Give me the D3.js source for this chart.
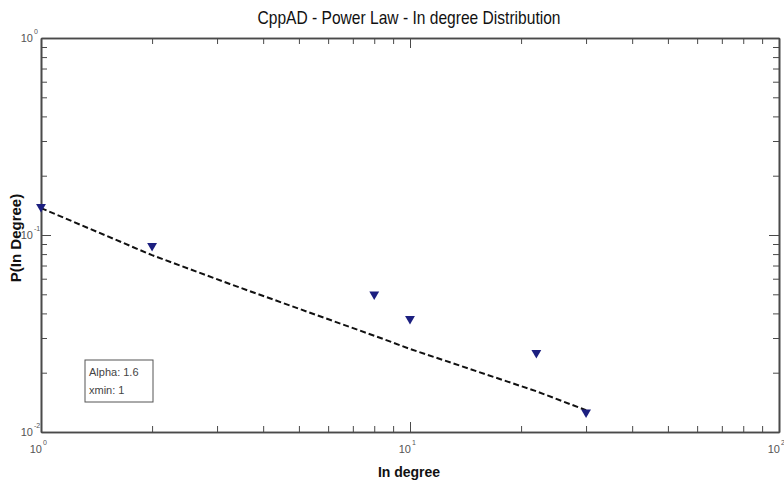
<!DOCTYPE html>
<html>
<head>
<meta charset="utf-8">
<script src="https://cdnjs.cloudflare.com/ajax/libs/d3/7.8.5/d3.min.js"></script>
<style>
  body { margin: 0; background: #fff; }
  svg { display: block; }
</style>
</head>
<body>
<div class="chart"></div>
<script>
// chart data
var degree = [1, 2, 8, 10, 22, 30];
var prob = [0.139, 0.088, 0.050, 0.0375, 0.0252, 0.0126];

// fitted power law line
var fitDegree = [1, 2, 3.25, 8.45, 10, 22, 30];
var fitProb = [0.137, 0.079, 0.0564, 0.0297, 0.0264, 0.0161, 0.0129];

var xMajor = [1, 10, 100];
var xExp = ["0", "1", "2"];
var yMajor = [1, 0.1, 0.01];
var yExp = ["0", "-1", "-2"];
var legendLines = ["Alpha: 1.6", "xmin: 1"];

var svgWidth = 784;
var svgHeight = 482;

var margin = { top: 38, right: 5, bottom: 50, left: 41 };
var width = svgWidth - margin.left - margin.right;
var height = svgHeight - margin.top - margin.bottom;

var svg = d3.select(".chart")
    .append("svg")
    .attr("width", svgWidth)
    .attr("height", svgHeight);

var chartGroup = svg.append("g")
    .attr("transform", `translate(${margin.left}, ${margin.top})`);

// scales
var xScale = d3.scaleLog().domain([1, 100]).range([0, width]);
var yScale = d3.scaleLog().domain([0.01, 1]).range([height, 0]);

// minor ticks
var xMinor = [];
[1, 10].forEach(function(b) { for (var i = 2; i <= 9; i++) xMinor.push(b * i); });
var yMinor = [];
[0.01, 0.1].forEach(function(b) { for (var i = 2; i <= 9; i++) yMinor.push(b * i); });

var axisColor = "#4a4a4a";

function drawAxis(axis, transform) {
    var g = chartGroup.append("g")
        .attr("transform", transform)
        .call(axis);
    g.selectAll(".domain").attr("stroke", axisColor).attr("stroke-width", 1.6);
    g.selectAll(".tick line").attr("stroke", axisColor).attr("stroke-width", 1);
    g.selectAll("text").remove();
    return g;
}

// bottom / top
drawAxis(d3.axisBottom(xScale).tickValues(xMinor).tickSizeInner(-6).tickSizeOuter(0), `translate(0,${height})`);
drawAxis(d3.axisBottom(xScale).tickValues(xMajor).tickSizeInner(-10).tickSizeOuter(0), `translate(0,${height})`);
drawAxis(d3.axisTop(xScale).tickValues(xMinor).tickSizeInner(-6).tickSizeOuter(0), "translate(0,0)");
drawAxis(d3.axisTop(xScale).tickValues(xMajor).tickSizeInner(-10).tickSizeOuter(0), "translate(0,0)");
// left / right
drawAxis(d3.axisLeft(yScale).tickValues(yMinor).tickSizeInner(-6).tickSizeOuter(0), "translate(0,0)");
drawAxis(d3.axisLeft(yScale).tickValues(yMajor).tickSizeInner(-10).tickSizeOuter(0), "translate(0,0)");
drawAxis(d3.axisRight(yScale).tickValues(yMinor).tickSizeInner(-6).tickSizeOuter(0), `translate(${width},0)`);
drawAxis(d3.axisRight(yScale).tickValues(yMajor).tickSizeInner(-10).tickSizeOuter(0), `translate(${width},0)`);

// tick labels like "10" with exponent
var labelFont = "'Liberation Sans Narrow', 'Liberation Sans', Arial, sans-serif";

function powLabel(x, y, exp) {
    chartGroup.append("text")
        .attr("x", x)
        .attr("y", y)
        .attr("text-anchor", "end")
        .attr("font-family", labelFont)
        .attr("font-size", 11)
        .attr("fill", "#555")
        .text("10");
    chartGroup.append("text")
        .attr("x", x + 1)
        .attr("y", y - 8)
        .attr("font-family", labelFont)
        .attr("font-size", 7)
        .attr("fill", "#555")
        .text(exp);
}

xMajor.forEach(function(v, i) {
    powLabel(xScale(v) + 1, height + 21, xExp[i]);
});
yMajor.forEach(function(v, i) {
    powLabel(-8, yScale(v) + 4, yExp[i]);
});

// fitted line
var line = d3.line()
    .x(function(d) { return xScale(d[0]); })
    .y(function(d) { return yScale(d[1]); });

chartGroup.append("path")
    .datum(fitDegree.map(function(d, i) { return [d, fitProb[i]]; }))
    .attr("d", line)
    .attr("fill", "none")
    .attr("stroke", "#111")
    .attr("stroke-width", 2)
    .attr("stroke-dasharray", "6,3");

// triangle markers
var tri = d3.symbol().type(d3.symbolTriangle).size(42);
chartGroup.selectAll(".pt")
    .data(degree)
    .enter()
    .append("path")
    .attr("class", "pt")
    .attr("d", tri)
    .attr("fill", "#1c1f80")
    .attr("transform", function(d, i) {
        return `translate(${xScale(d)},${yScale(prob[i])}) rotate(180)`;
    });

// legend box
var legend = svg.append("g").attr("transform", "translate(85,360)");
legend.append("rect")
    .attr("width", 68)
    .attr("height", 42)
    .attr("fill", "#fff")
    .attr("stroke", "#555")
    .attr("stroke-width", 1);
legend.selectAll("text")
    .data(legendLines)
    .enter()
    .append("text")
    .attr("x", 4)
    .attr("y", function(d, i) { return 16 + i * 18; })
    .attr("font-family", labelFont)
    .attr("font-size", 11)
    .attr("fill", "#444")
    .text(function(d) { return d; });

// title
svg.append("text")
    .attr("x", 409)
    .attr("y", 24)
    .attr("text-anchor", "middle")
    .attr("font-family", labelFont)
    .attr("font-size", 19)
    .attr("fill", "#111")
    .attr("textLength", 303)
    .attr("lengthAdjust", "spacingAndGlyphs")
    .text("CppAD - Power Law - In degree Distribution");

// axis titles
svg.append("text")
    .attr("x", 409)
    .attr("y", 477)
    .attr("text-anchor", "middle")
    .attr("font-family", labelFont)
    .attr("font-weight", "bold")
    .attr("font-size", 14)
    .attr("fill", "#111")
    .text("In degree");

svg.append("text")
    .attr("transform", "translate(21,238) rotate(-90)")
    .attr("text-anchor", "middle")
    .attr("font-family", "'Liberation Sans', Arial, sans-serif")
    .attr("font-weight", "bold")
    .attr("font-size", 15)
    .attr("fill", "#111")
    .text("P(In Degree)");
</script>
</body>
</html>
